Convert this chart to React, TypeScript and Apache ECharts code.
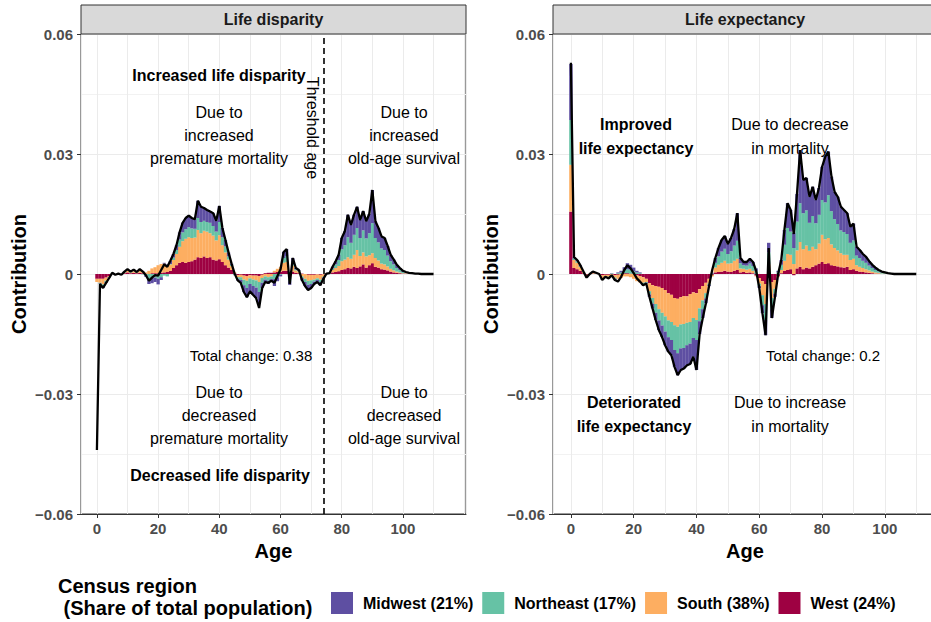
import React, { useEffect, useRef } from "react";
import * as echarts from "echarts";

// ---------- DATA ----------
const AGES = Array.from({ length: 111 }, (_, i) => i);

const REGION_NAMES = ["Midwest (21%)", "Northeast (17%)", "South (38%)", "West (24%)"];
const REGION_COLORS = ["#5E4FA2", "#66C2A5", "#FDAE61", "#9E0142"];
const X_TICKS = [0, 20, 40, 60, 80, 100];
const PANEL_TITLES = ["Life disparity", "Life expectancy"];
const THRESHOLD_AGE = 74;

// Life disparity panel
const LD_WEST = [
  -0.0012, -0.0012, -0.0012, -0.0009, -0.0005, 0.0001, 0, 0.0001, -0.0001, 0.0002,
  0.0004, 0.0002, 0.0003, 0.0002, 0.0003, 0.0002, 0.0001, 0, 0.0002, 0.0002,
  0.0002, 0.0003, 0.0004, 0.0005, 0.0008, 0.0015, 0.0022, 0.0028, 0.003, 0.0028,
  0.003, 0.0032, 0.0036, 0.0042, 0.004, 0.0044, 0.004, 0.0042, 0.0036, 0.0034,
  0.0037, 0.003, 0.0022, 0.0016, 0.001, 0.0002, -0.0003, -0.0002, -0.0004, -0.0005,
  -0.0003, -0.0004, -0.0004, -0.0005, -0.0002, 0.0002, 0.0003, 0.0003, 0.0004, 0.0005,
  0.0006, 0.0008, 0.0008, 0.0002, 0.0006, 0.0003, 0.0002, 0.0001, 0, -0.0002,
  -0.0002, -0.0002, -0.0001, -0.0002, -0.0001, 0.0001, 0.0001, 0.0004, 0.0005, 0.0007,
  0.001, 0.0012, 0.0015, 0.0014, 0.0018, 0.0015, 0.0019, 0.0024, 0.0016, 0.0022,
  0.0027, 0.0018, 0.0016, 0.0012, 0.0011, 0.0009, 0.0006, 0.0004, 0.0003, 0.0002,
  0.0001, 0.0001, 0, 0, 0, 0, 0, 0, 0, 0, 0,
];
const LD_SOUTH = [
  -0.0008, -0.001, -0.0014, -0.0008, -0.0003, 0.0001, -0.0001, 0, 0, 0.0002,
  0.0004, 0.0002, 0.0004, 0.0002, 0.0005, 0.0004, 0.0003, 0.0008, 0.0012, 0.0015,
  0.002, 0.0022, 0.0022, 0.0015, 0.0016, 0.002, 0.0028, 0.004, 0.0052, 0.006,
  0.0062, 0.0058, 0.0055, 0.0068, 0.0062, 0.0064, 0.0066, 0.006, 0.006, 0.005,
  0.006, 0.0042, 0.0032, 0.002, 0.001, 0.0002, -0.0005, -0.0006, -0.001, -0.0012,
  -0.0008, -0.001, -0.0012, -0.0015, -0.0008, -0.0006, -0.0008, -0.0006, 0.0004, 0.0008,
  0.0012, 0.002, 0.0022, -0.0008, 0.0015, 0.0006, 0.0004, -0.0006, -0.0012, -0.0015,
  -0.0014, -0.0012, -0.001, -0.0012, -0.0006, 0.0001, 0.0001, 0.0006, 0.001, 0.0013,
  0.0022, 0.0024, 0.0027, 0.0024, 0.003, 0.0045, 0.0026, 0.003, 0.0028, 0.0025,
  0.0025, 0.0022, 0.0018, 0.0014, 0.0013, 0.001, 0.0007, 0.0005, 0.0003, 0.0002,
  0.0001, 0.0001, 0.0001, 0, 0, 0, 0, 0, 0, 0, 0,
];
const LD_NORTHEAST = [
  0, -0.0002, -0.0005, -0.0003, -0.0001, 0.0001, 0, 0, 0, 0.0001,
  0.0002, 0.0001, 0.0002, 0.0001, 0.0002, -0.0001, -0.0003, -0.0012, -0.001, -0.0009,
  -0.0012, -0.0008, -0.0004, -0.0006, 0.0001, 0.0006, 0.001, 0.0018, 0.0022, 0.0024,
  0.0025, 0.0024, 0.0022, 0.003, 0.0028, 0.0025, 0.0024, 0.0026, 0.0024, 0.0022,
  0.0033, 0.002, 0.0015, 0.0008, 0.0003, -0.0002, -0.0004, -0.0007, -0.0014, -0.0018,
  -0.0014, -0.0016, -0.0018, -0.0025, -0.0012, -0.0008, -0.0009, -0.0007, -0.0013, -0.0008,
  -0.0002, 0.0012, 0.0015, -0.001, 0.0009, 0.0003, 0.0002, -0.0004, -0.0008, -0.001,
  -0.0009, -0.0005, -0.0004, -0.0006, -0.0002, 0, 0.0001, 0.0004, 0.0009, 0.0015,
  0.003, 0.0036, 0.005, 0.004, 0.005, 0.0055, 0.0045, 0.0055, 0.0045, 0.0055,
  0.0075, 0.005, 0.0045, 0.0038, 0.0036, 0.0027, 0.0019, 0.0015, 0.0009, 0.0006,
  0.0003, 0.0002, 0.0001, 0.0001, 0, 0, 0, 0, 0, 0, 0,
];
const LD_MIDWEST = [
  0, -0.0001, -0.0004, -0.0002, -0.0001, 0, -0.0001, 0, -0.0001, 0.0001,
  0.0002, 0.0001, 0.0002, 0, 0.0002, 0.0001, -0.0004, -0.0013, -0.0013, -0.0011,
  -0.0014, -0.0007, 0.0002, 0.0004, 0.0008, 0.0009, 0.0012, 0.0018, 0.0024, 0.0028,
  0.0029, 0.0026, 0.0024, 0.0043, 0.0038, 0.0032, 0.003, 0.0028, 0.0032, 0.0027,
  0.004, 0.0023, 0.0016, 0.001, 0.0003, -0.0001, -0.0004, -0.0007, -0.0017, -0.0023,
  -0.0018, -0.0022, -0.0026, -0.003, -0.0013, -0.0008, -0.0008, -0.0007, -0.0017, -0.001,
  -0.0004, 0.0015, 0.0017, -0.0009, 0.001, 0.0003, 0.0002, -0.0006, -0.001, -0.0013,
  -0.001, -0.0006, -0.0005, -0.0008, -0.0003, -0.0001, 0, 0.0004, 0.0008, 0.0013,
  0.0028, 0.0035, 0.0056, 0.0045, 0.005, 0.0053, 0.0045, 0.0048, 0.0043, 0.0048,
  0.0083, 0.0042, 0.0036, 0.003, 0.003, 0.0024, 0.0016, 0.0012, 0.0008, 0.0005,
  0.0003, 0.0001, 0.0001, 0.0001, 0, 0, 0, 0, 0, 0, 0,
];
const LD_TOTAL = [
  -0.044, -0.0025, -0.0035, -0.0022, -0.001, 0.0003, -0.0002, 0.0001, -0.0002, 0.0006,
  0.0012, 0.0006, 0.0011, 0.0005, 0.0012, 0.0006, -0.0003, -0.0017, -0.0009, -0.0003,
  -0.0004, 0.001, 0.0024, 0.0018, 0.0033, 0.005, 0.0072, 0.0104, 0.0128, 0.014,
  0.0146, 0.014, 0.0137, 0.0183, 0.0168, 0.0165, 0.016, 0.0156, 0.0152, 0.0133,
  0.017, 0.0115, 0.0085, 0.0054, 0.0026, 0.0001, -0.0016, -0.0022, -0.0045, -0.0058,
  -0.0043, -0.0052, -0.006, -0.0085, -0.0035, -0.002, -0.0022, -0.0017, -0.0022, -0.0005,
  0.0012, 0.0055, 0.0062, -0.0025, 0.004, 0.0015, 0.001, -0.0015, -0.003, -0.004,
  -0.0035, -0.0025, -0.002, -0.0028, -0.0012, 0.0001, 0.0002, 0.0018, 0.0032, 0.0048,
  0.009, 0.0107, 0.0148, 0.0123, 0.0148, 0.0168, 0.0135, 0.0157, 0.0132, 0.015,
  0.021, 0.0132, 0.0115, 0.0094, 0.009, 0.007, 0.0048, 0.0036, 0.0023, 0.0015,
  0.0008, 0.0005, 0.0003, 0.0002, 0.0001, 0.0001, 0, 0, 0, 0, 0,
];

// Life expectancy panel
const LE_WEST = [
  0.0156, 0.0015, 0.0012, 0.0008, 0.0002, -0.0002, 0, 0.0001, 0.0001, 0,
  -0.0003, -0.0002, -0.0002, 0, -0.0003, -0.0002, 0, 0.0002, 0.0002, 0.0001,
  0, -0.0003, -0.0005, -0.0008, -0.0012, -0.0023, -0.0028, -0.003, -0.0032, -0.0035,
  -0.004, -0.0048, -0.0052, -0.006, -0.0062, -0.0058, -0.0055, -0.0056, -0.005, -0.0046,
  -0.0048, -0.0038, -0.003, -0.0022, -0.0012, -0.0002, 0.0004, 0.0005, 0.0006, 0.0008,
  0.0006, 0.0005, 0.0008, 0.001, 0.0004, 0.0005, 0.0003, 0.0004, 0.0002, -0.0004,
  -0.001, -0.0018, -0.0025, -0.001, -0.002, -0.0015, -0.0006, 0.0002, 0.0008, 0.001,
  0.0012, -0.0003, 0.0014, 0.0018, 0.0012, 0.0016, 0.0014, 0.0018, 0.0022, 0.0026,
  0.003, 0.0025, 0.0027, 0.0022, 0.002, 0.0019, 0.0017, 0.0016, 0.0018, 0.001,
  0.0012, 0.0008, 0.0006, 0.0005, 0.0004, 0.0003, 0.0002, 0.0001, 0.0001, 0,
  0, 0, 0, 0, 0, 0, 0, 0, 0, 0, 0,
];
const LE_SOUTH = [
  0.0117, 0.002, 0.0016, 0.001, 0.0003, -0.0004, 0, 0.0003, 0.0001, 0,
  -0.0007, -0.0003, -0.0005, -0.0002, -0.0006, -0.001, -0.001, -0.0006, -0.0006, -0.0008,
  -0.0012, -0.0015, -0.0016, -0.0014, -0.0008, -0.002, -0.0032, -0.0045, -0.0056, -0.0062,
  -0.0066, -0.0068, -0.0068, -0.0068, -0.007, -0.0068, -0.007, -0.0066, -0.007, -0.0064,
  -0.0067, -0.0048, -0.0036, -0.0026, -0.0012, -0.0004, 0.0012, 0.0018, 0.0022, 0.0025,
  0.002, 0.0022, 0.0025, 0.0028, 0.001, 0.0008, 0.0008, 0.0009, 0.0006, -0.0002,
  -0.0014, -0.0035, -0.005, 0.0024, -0.004, -0.0022, -0.0002, 0.0008, 0.0025, 0.004,
  0.0036, 0.0025, 0.0045, 0.0062, 0.005, 0.0055, 0.0044, 0.005, 0.004, 0.005,
  0.0068, 0.0062, 0.0063, 0.0052, 0.0045, 0.004, 0.0035, 0.0032, 0.003, 0.0025,
  0.0026, 0.0014, 0.0012, 0.001, 0.0008, 0.0006, 0.0004, 0.0003, 0.0002, 0.0001,
  0.0001, 0, 0, 0, 0, 0, 0, 0, 0, 0, 0,
];
const LE_NORTHEAST = [
  0.0112, 0.0004, 0.0004, 0.0002, 0.0001, -0.0002, 0, 0.0001, 0.0001, 0,
  -0.0003, -0.0001, -0.0002, 0.0001, -0.0003, 0.0002, 0.0004, 0.0007, 0.001, 0.001,
  0.0007, 0.0004, 0.0002, -0.0003, -0.0002, -0.0008, -0.0014, -0.0022, -0.0028, -0.0032,
  -0.0038, -0.0042, -0.0045, -0.0062, -0.0066, -0.006, -0.006, -0.0056, -0.0054, -0.005,
  -0.005, -0.0032, -0.0022, -0.0013, -0.0003, 0.0001, 0.0012, 0.0021, 0.0028, 0.003,
  0.0024, 0.003, 0.0038, 0.0045, 0.0013, 0.0009, 0.001, 0.0013, 0.0012, 0.0008,
  -0.0006, -0.0025, -0.004, 0.003, -0.0028, -0.0012, 0.0004, 0.0013, 0.004, 0.0065,
  0.0058, 0.004, 0.0072, 0.0097, 0.009, 0.0088, 0.007, 0.0077, 0.0065, 0.0072,
  0.0087, 0.0092, 0.0107, 0.0083, 0.0072, 0.0066, 0.0057, 0.0057, 0.0052, 0.0043,
  0.0046, 0.0024, 0.0022, 0.0018, 0.0016, 0.0012, 0.0009, 0.0006, 0.0004, 0.0003,
  0.0002, 0.0001, 0, 0, 0, 0, 0, 0, 0, 0, 0,
];
const LE_MIDWEST = [
  0.014, 0.0003, 0.0003, 0.0002, 0, -0.0001, 0, 0.0001, 0, 0,
  -0.0002, -0.0001, -0.0002, 0.0001, -0.0003, 0.0002, 0.0004, 0.0008, 0.0015, 0.0012,
  0.0009, 0.0004, 0.0002, -0.0003, -0.0002, -0.0006, -0.0012, -0.0018, -0.0024, -0.0028,
  -0.0034, -0.0036, -0.0038, -0.0042, -0.0055, -0.0054, -0.0051, -0.005, -0.0051, -0.0047,
  -0.0075, -0.0032, -0.0022, -0.0012, -0.0003, 0.0001, 0.0012, 0.0021, 0.0029, 0.0032,
  0.0025, 0.0033, 0.0041, 0.0069, 0.0013, 0.0008, 0.0009, 0.0012, 0.001, 0.0006,
  -0.0005, -0.002, -0.0038, 0.0024, -0.0022, -0.0008, 0.0004, 0.0012, 0.0037, 0.0062,
  0.0054, 0.0038, 0.0069, 0.0133, 0.0083, 0.0081, 0.0065, 0.0073, 0.0058, 0.0067,
  0.0083, 0.0114, 0.0109, 0.0086, 0.0068, 0.0068, 0.0059, 0.0055, 0.0052, 0.004,
  0.0042, 0.0022, 0.002, 0.0017, 0.0015, 0.0011, 0.0008, 0.0006, 0.0003, 0.0002,
  0.0001, 0.0001, 0, 0, 0, 0, 0, 0, 0, 0, 0,
];
const LE_TOTAL = [
  0.0528, 0.0042, 0.0035, 0.0022, 0.0006, -0.0009, 0, 0.0006, 0.0003, 0,
  -0.0015, -0.0007, -0.0011, -0.0003, -0.0015, -0.0019, -0.0007, 0.001, 0.0022, 0.0014,
  0.0002, -0.0011, -0.0019, -0.0028, -0.0024, -0.0057, -0.0086, -0.0115, -0.014, -0.0157,
  -0.0178, -0.0194, -0.0203, -0.0232, -0.0253, -0.024, -0.0236, -0.0228, -0.0225, -0.0207,
  -0.024, -0.015, -0.011, -0.0073, -0.003, 0.001, 0.004, 0.0065, 0.0085, 0.0095,
  0.0075, 0.009, 0.0112, 0.0152, 0.004, 0.003, 0.003, 0.0038, 0.003, 0.0008,
  -0.0035, -0.0098, -0.0153, 0.0065, -0.011, -0.0057, 0, 0.0035, 0.011, 0.0177,
  0.016, 0.01, 0.02, 0.031, 0.0235, 0.024, 0.0193, 0.0218, 0.0185, 0.0215,
  0.0268, 0.0293, 0.0306, 0.0243, 0.0205, 0.0193, 0.0168, 0.016, 0.0152, 0.0118,
  0.0126, 0.0068, 0.006, 0.005, 0.0043, 0.0032, 0.0023, 0.0016, 0.001, 0.0006,
  0.0004, 0.0002, 0.0001, 0, 0, 0, 0, 0, 0, 0, 0,
];

// ---------- LAYOUT / STYLE ----------
const FONT = "'Liberation Sans', Arial, Helvetica, sans-serif";

const PANELS = [
  {
    title: PANEL_TITLES[0],
    grid: { left: 81, top: 34, width: 385, height: 480 },
    xMin: -5.2,
    xMax: 120.6,
    barWidth: 3.3,
    regions: [LD_MIDWEST, LD_NORTHEAST, LD_SOUTH, LD_WEST],
    total: LD_TOTAL,
    threshold: true,
  },
  {
    title: PANEL_TITLES[1],
    grid: { left: 553, top: 34, width: 384, height: 480 },
    xMin: -5.7,
    xMax: 116.6,
    barWidth: 3.4,
    regions: [LE_MIDWEST, LE_NORTHEAST, LE_SOUTH, LE_WEST],
    total: LE_TOTAL,
    threshold: false,
  },
];

const yFmt = (v: number) => {
  if (Math.abs(v) < 1e-9) return "0";
  return (v < 0 ? "\u2212" : "") + Math.abs(v).toFixed(2);
};

const annText = (x: number, y: number, text: string, extra: any = {}) => ({
  type: "text",
  x,
  y,
  z: 1,
  silent: true,
  style: {
    text,
    fill: "#000",
    fontFamily: FONT,
    fontSize: 16,
    align: "center",
    verticalAlign: "middle",
    lineHeight: 23,
    ...extra,
  },
});

export default function App() {
  const ref = useRef<HTMLDivElement>(null);

  useEffect(() => {
    if (!ref.current) return;
    const chart = echarts.init(ref.current, null, { renderer: "svg" });

    const grids: any[] = [];
    const xAxes: any[] = [];
    const yAxes: any[] = [];
    const series: any[] = [];
    const graphics: any[] = [];

    PANELS.forEach((p, i) => {
      grids.push({
        ...p.grid,
        show: true,
        borderColor: "#333333",
        borderWidth: 1,
        backgroundColor: "transparent",
        containLabel: false,
      });
      // data axis with grid lines
      xAxes.push({
        type: "value",
        gridIndex: i,
        min: p.xMin,
        max: p.xMax,
        splitNumber: 12,
        position: "top",
        axisLine: { show: false, onZero: false },
        axisTick: { show: false },
        axisLabel: { show: false },
        splitLine: { show: true, lineStyle: { color: "#EBEBEB", width: 1 } },
      });
      // label axis
      xAxes.push({
        type: "value",
        gridIndex: i,
        min: p.xMin,
        max: p.xMax,
        position: "bottom",
        axisLine: { show: true, onZero: false, lineStyle: { color: "#333333", width: 1 } },
        axisTick: { show: true, length: 4, customValues: X_TICKS, lineStyle: { color: "#333333" } },
        axisLabel: {
          customValues: X_TICKS,
          color: "#4D4D4D",
          fontWeight: "bold",
          fontSize: 15,
          fontFamily: FONT,
          margin: 7,
        },
        splitLine: { show: false },
        name: "Age",
        nameLocation: "middle",
        nameGap: 25,
        nameTextStyle: { color: "#000", fontWeight: "bold", fontSize: 20, fontFamily: FONT },
      });
      yAxes.push({
        type: "value",
        gridIndex: i,
        min: -0.06,
        max: 0.06,
        interval: 0.03,
        axisLine: { show: false, onZero: false },
        axisTick: { show: true, length: 4, lineStyle: { color: "#333333" } },
        axisLabel: {
          formatter: yFmt,
          color: "#4D4D4D",
          fontWeight: "bold",
          fontSize: 15,
          fontFamily: FONT,
          margin: 8,
        },
        splitLine: { show: true, lineStyle: { color: "#EBEBEB", width: 1 } },
        minorTick: { show: false, splitNumber: 2 },
        minorSplitLine: { show: true, lineStyle: { color: "#F2F2F2", width: 1 } },
        name: "Contribution",
        nameLocation: "middle",
        nameGap: 52,
        nameTextStyle: { color: "#000", fontWeight: "bold", fontSize: 20, fontFamily: FONT },
      });

      // stacked bars: West (bottom) -> South -> Northeast -> Midwest (top)
      // data rows are [value, age] so that the stacked dimension is the value (y).
      [3, 2, 1, 0].forEach((k) => {
        const vals = p.regions[k];
        series.push({
          type: "bar",
          name: REGION_NAMES[k],
          xAxisIndex: i * 2,
          yAxisIndex: i,
          stack: "panel" + i,
          stackStrategy: "samesign",
          barWidth: p.barWidth,
          silent: true,
          emphasis: { disabled: true },
          itemStyle: { color: REGION_COLORS[k] },
          encode: { x: 1, y: 0 },
          data: AGES.map((a, j) => [vals[j], a]),
        });
      });

      const lineSeries: any = {
        type: "line",
        name: "Total",
        xAxisIndex: i * 2,
        yAxisIndex: i,
        symbol: "none",
        showSymbol: false,
        silent: true,
        z: 5,
        lineStyle: { color: "#000", width: 2.3 },
        emphasis: { disabled: true },
        data: AGES.map((a, j) => [a, p.total[j]]),
      };
      if (p.threshold) {
        lineSeries.markLine = {
          silent: true,
          symbol: ["none", "none"],
          label: { show: false },
          lineStyle: { type: [6, 4], color: "#000", width: 1.6 },
          data: [{ xAxis: THRESHOLD_AGE }],
        };
      }
      series.push(lineSeries);

      // facet strip
      graphics.push({
        type: "rect",
        z: 10,
        silent: true,
        shape: { x: p.grid.left, y: 5, width: p.grid.width, height: 29 },
        style: { fill: "#D9D9D9", stroke: "#333333", lineWidth: 1 },
      });
      graphics.push({
        type: "text",
        z: 11,
        silent: true,
        x: p.grid.left + p.grid.width / 2,
        y: 19.5,
        style: {
          text: p.title,
          fill: "#1A1A1A",
          fontFamily: FONT,
          fontSize: 16,
          fontWeight: "bold",
          align: "center",
          verticalAlign: "middle",
        },
      });
    });

    // annotations: Life disparity panel
    graphics.push(annText(219, 75, "Increased life disparity", { fontWeight: "bold" }));
    graphics.push(annText(219, 135, "Due to\nincreased\npremature mortality"));
    graphics.push(annText(404, 135, "Due to\nincreased\nold-age survival"));
    graphics.push({
      type: "text",
      x: 312,
      y: 128,
      z: 1,
      silent: true,
      rotation: -Math.PI / 2,
      style: {
        text: "Threshold age",
        fill: "#000",
        fontFamily: FONT,
        fontSize: 16,
        align: "center",
        verticalAlign: "middle",
      },
    });
    graphics.push(annText(251, 355, "Total change: 0.38", { fontSize: 15 }));
    graphics.push(annText(219, 415, "Due to\ndecreased\npremature mortality"));
    graphics.push(annText(404, 415, "Due to\ndecreased\nold-age survival"));
    graphics.push(annText(220, 475, "Decreased life disparity", { fontWeight: "bold" }));

    // annotations: Life expectancy panel
    graphics.push(annText(636, 136, "Improved\nlife expectancy", { fontWeight: "bold", lineHeight: 24 }));
    graphics.push(annText(790, 136, "Due to decrease\nin mortality", { lineHeight: 24 }));
    graphics.push(annText(823, 355, "Total change: 0.2", { fontSize: 15 }));
    graphics.push(annText(634, 414, "Deteriorated\nlife expectancy", { fontWeight: "bold", lineHeight: 24 }));
    graphics.push(annText(790, 414, "Due to increase\nin mortality", { lineHeight: 24 }));

    // legend title
    graphics.push({
      type: "text",
      x: 58,
      y: 597,
      z: 1,
      silent: true,
      style: {
        text: "Census region\n (Share of total population)",
        fill: "#000",
        fontFamily: FONT,
        fontSize: 20,
        fontWeight: "bold",
        align: "left",
        verticalAlign: "middle",
        lineHeight: 22,
      },
    });

    chart.setOption({
      animation: false,
      backgroundColor: "#ffffff",
      textStyle: { fontFamily: FONT },
      grid: grids,
      xAxis: xAxes,
      yAxis: yAxes,
      series,
      legend: {
        data: REGION_NAMES,
        left: 326,
        top: 587,
        orient: "horizontal",
        icon: "rect",
        itemWidth: 22,
        itemHeight: 22,
        itemGap: 9,
        selectedMode: false,
        textStyle: {
          color: "#000",
          fontSize: 16,
          fontWeight: "bold",
          fontFamily: FONT,
          padding: [0, 0, 0, 5],
        },
      },
      graphic: graphics,
    });

    return () => chart.dispose();
  }, []);

  return (
    <div
      style={{
        position: "fixed",
        left: 0,
        top: 0,
        width: 931,
        height: 622,
        overflow: "hidden",
        background: "#fff",
      }}
    >
      <div ref={ref} style={{ width: 960, height: 622 }} />
    </div>
  );
}
